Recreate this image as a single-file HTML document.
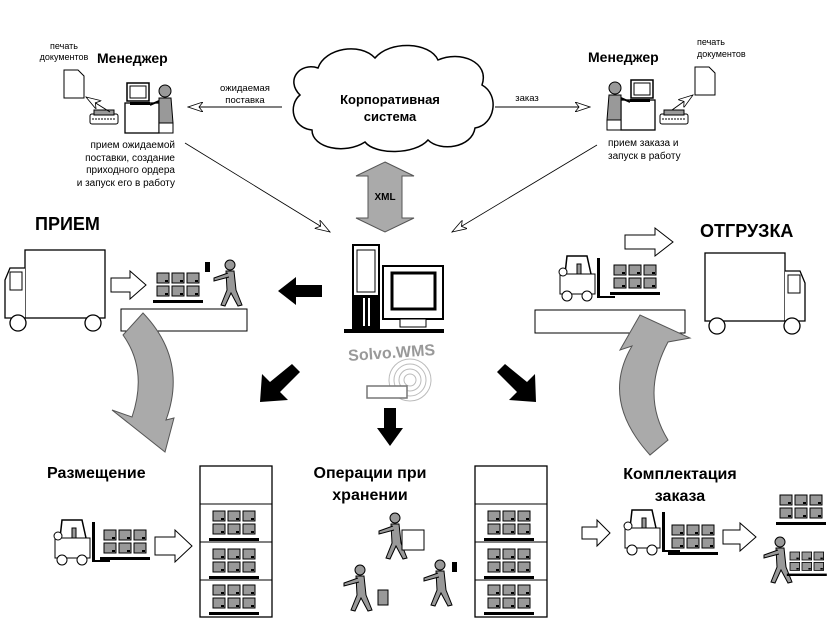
<!DOCTYPE html>
<html><head><meta charset="utf-8"><style>
html,body{margin:0;padding:0;background:#fff;}
svg{display:block;font-family:"Liberation Sans",sans-serif;}
</style></head><body>
<svg width="830" height="620" viewBox="0 0 830 620" xmlns="http://www.w3.org/2000/svg">
<defs>
<g id="b"><rect x="0" y="0" width="12" height="10" fill="#999" stroke="#000" stroke-width="1"/><rect x="8" y="7" width="3" height="2" fill="#000"/></g>
<g id="g6"><use href="#b" x="0" y="0"/><use href="#b" x="15" y="0"/><use href="#b" x="30" y="0"/><use href="#b" x="0" y="13"/><use href="#b" x="15" y="13"/><use href="#b" x="30" y="13"/><rect x="-4" y="27" width="50" height="3" fill="#000"/></g>
<marker id="oa" markerWidth="16" markerHeight="10" refX="15" refY="5" orient="auto" markerUnits="userSpaceOnUse"><path d="M0,0 L15,5 L0,10 L4,5 Z" fill="#fff" stroke="#000" stroke-width="0.8"/></marker>
<g id="truck"><rect x="20" y="0" width="80" height="68" fill="#fff" stroke="#000" stroke-width="1.3"/><path d="M20,18 L5,18 L0,30 L0,68 L20,68" fill="#fff" stroke="#000" stroke-width="1.3"/><rect x="5" y="22" width="12" height="18" fill="#fff" stroke="#000"/><circle cx="13" cy="73" r="8" fill="#fff" stroke="#000" stroke-width="1.3"/><circle cx="88" cy="73" r="8" fill="#fff" stroke="#000" stroke-width="1.3"/></g>
<g id="fork"><rect x="5" y="18" width="35" height="20" fill="#fff" stroke="#000"/><path d="M10,18 L12,0 L32,0 L36,18" fill="none" stroke="#000" stroke-width="1.5"/><circle cx="8" cy="16" r="4" fill="#fff" stroke="#000"/><rect x="22" y="8" width="4" height="10" fill="#999" stroke="#000"/><circle cx="12" cy="40" r="5" fill="#fff" stroke="#000"/><circle cx="32" cy="40" r="5" fill="#fff" stroke="#000"/><rect x="42" y="2" width="3" height="40" fill="#000"/><rect x="42" y="40" width="18" height="2" fill="#000"/></g>
<g id="shelf"><rect x="0" y="0" width="72" height="151" fill="#fff" stroke="#000" stroke-width="1.3"/><line x1="0" y1="38" x2="72" y2="38" stroke="#000"/><line x1="0" y1="76" x2="72" y2="76" stroke="#000"/><line x1="0" y1="114" x2="72" y2="114" stroke="#000"/><use href="#g6" x="13" y="45"/><use href="#g6" x="13" y="83"/><use href="#g6" x="13" y="119"/></g>
<g id="person" fill="#999" stroke="#000" stroke-width="1"><circle cx="10" cy="5" r="5"/><path d="M6,11 L14,11 L16,30 L22,45 L18,46 L11,33 L5,46 L1,45 L7,30 Z"/><path d="M8,13 L-6,18 L-6,21 L9,17" /></g>
<g id="mgr"><rect x="0" y="20" width="34" height="30" fill="#fff" stroke="#000" stroke-width="1.3"/><rect x="2" y="0" width="22" height="18" fill="#fff" stroke="#000" stroke-width="1.5"/><rect x="5" y="3" width="16" height="12" fill="#fff" stroke="#000"/><rect x="5" y="19" width="20" height="3" fill="#000"/><circle cx="40" cy="8" r="6" fill="#999" stroke="#000"/><path d="M34,15 L46,15 L48,40 L34,40 Z" fill="#999" stroke="#000"/><rect x="34" y="40" width="14" height="10" fill="#fff" stroke="#000"/><path d="M34,18 L25,22" stroke="#000" stroke-width="2"/></g>
<g id="prn"><rect x="0" y="4" width="28" height="10" rx="2" fill="#fff" stroke="#000"/><rect x="4" y="0" width="20" height="5" fill="#999" stroke="#000"/><line x1="2" y1="9" x2="26" y2="9" stroke="#000" stroke-dasharray="2 1"/></g>
<g id="doc"><path d="M0,0 L14,0 L20,6 L20,28 L0,28 Z" fill="#fff" stroke="#000"/></g>
</defs>

<!-- top left -->
<text x="64" y="49" font-size="9" text-anchor="middle">печать</text>
<text x="64" y="60" font-size="9" text-anchor="middle">документов</text>
<text x="97" y="63" font-size="14" font-weight="bold">Менеджер</text>
<use href="#doc" x="64" y="70"/>
<use href="#prn" x="90" y="110"/>
<line x1="110" y1="112" x2="86" y2="97" stroke="#000" marker-end="url(#oa)"/>
<use href="#mgr" x="125" y="83"/>
<text x="175" y="148" font-size="10" text-anchor="end">прием ожидаемой</text>
<text x="175" y="161" font-size="10" text-anchor="end">поставки, создание</text>
<text x="175" y="173" font-size="10" text-anchor="end">приходного ордера</text>
<text x="175" y="186" font-size="10" text-anchor="end">и запуск его в работу</text>
<text x="245" y="91" font-size="9.5" text-anchor="middle">ожидаемая</text>
<text x="245" y="103" font-size="9.5" text-anchor="middle">поставка</text>
<line x1="282" y1="107" x2="188" y2="107" stroke="#000" marker-end="url(#oa)"/>
<line x1="185" y1="143" x2="330" y2="232" stroke="#000" stroke-width="0.8" marker-end="url(#oa)"/>

<!-- cloud -->
<path d="M300,95 C285,80 300,62 318,68 C325,48 360,42 375,58 C390,40 430,42 438,60 C460,50 490,62 482,85 C500,95 495,125 475,128 C472,148 440,152 428,140 C415,155 375,155 365,142 C345,155 312,148 312,130 C292,128 288,105 300,95 Z" fill="#fff" stroke="#000" stroke-width="1.5"/>
<text x="390" y="104" font-size="13" font-weight="bold" text-anchor="middle">Корпоративная</text>
<text x="390" y="121" font-size="13" font-weight="bold" text-anchor="middle">система</text>

<!-- top right -->
<text x="527" y="101" font-size="9.5" text-anchor="middle">заказ</text>
<line x1="495" y1="107" x2="590" y2="107" stroke="#000" marker-end="url(#oa)"/>
<text x="588" y="62" font-size="14" font-weight="bold">Менеджер</text>
<text x="697" y="45" font-size="9">печать</text>
<text x="697" y="57" font-size="9">документов</text>
<use href="#doc" x="695" y="67"/>
<use href="#prn" x="660" y="110"/>
<line x1="672" y1="110" x2="693" y2="95" stroke="#000" marker-end="url(#oa)"/>
<g transform="translate(655,80) scale(-1,1)"><use href="#mgr"/></g>
<text x="608" y="146" font-size="10">прием заказа и</text>
<text x="608" y="159" font-size="10">запуск в работу</text>
<line x1="597" y1="145" x2="452" y2="232" stroke="#000" stroke-width="0.8" marker-end="url(#oa)"/>

<!-- XML -->
<path d="M385,162 L414,176 L402,176 L402,218 L414,218 L385,232 L356,218 L368,218 L368,176 L356,176 Z" fill="#aaa" stroke="#555"/>
<text x="385" y="200" font-size="10" font-weight="bold" text-anchor="middle">XML</text>

<!-- computer -->
<rect x="353" y="245" width="26" height="85" fill="#fff" stroke="#000" stroke-width="2"/>
<rect x="357" y="250" width="18" height="42" fill="#fff" stroke="#000"/>
<rect x="353" y="295" width="26" height="35" fill="#000"/>
<rect x="363" y="298" width="2" height="28" fill="#fff"/><rect x="368" y="298" width="2" height="28" fill="#fff"/>
<rect x="383" y="266" width="60" height="53" fill="#fff" stroke="#000" stroke-width="2"/>
<rect x="392" y="273" width="43" height="36" fill="#fff" stroke="#000" stroke-width="3"/>
<rect x="400" y="319" width="26" height="8" fill="#fff" stroke="#000"/>
<rect x="344" y="329" width="100" height="4" fill="#000"/>
<text x="392" y="358" font-size="16" font-weight="bold" fill="#999" text-anchor="middle" transform="rotate(-4 392 358)">Solvo.WMS</text>
<g fill="none" stroke="#bbb"><circle cx="410" cy="380" r="6"/><circle cx="410" cy="380" r="11"/><circle cx="410" cy="380" r="16"/><circle cx="410" cy="380" r="21"/></g>
<rect x="367" y="386" width="40" height="12" fill="#fff" stroke="#777" stroke-width="1.5"/>

<!-- black arrows -->
<path d="M322,285 L296,285 L296,277 L278,291 L296,305 L296,297 L322,297 Z" fill="#000"/>
<path d="M292,364 L300,372 L280,392 L288,400 L260,402 L262,374 L270,382 Z" fill="#000"/>
<path d="M384,408 L396,408 L396,428 L403,428 L390,446 L377,428 L384,428 Z" fill="#000"/>
<path d="M505,364 L497,372 L517,392 L509,400 L536,402 L535,374 L527,382 Z" fill="#000"/>

<!-- PRIEM -->
<text x="35" y="230" font-size="18" font-weight="bold">ПРИЕМ</text>
<use href="#truck" x="5" y="250"/>
<path d="M111,278 L130,278 L130,271 L146,285 L130,299 L130,292 L111,292 Z" fill="#fff" stroke="#000"/>
<use href="#g6" x="157" y="273"/>
<rect x="121" y="309" width="126" height="22" fill="#fff" stroke="#000"/>
<use href="#person" x="220" y="260"/>
<rect x="205" y="262" width="5" height="10" fill="#000"/>
<path d="M123,335 L143,313 Q188,360 166,420 L174,418 L165,452 L112,410 L132,417 Q148,370 123,335 Z" fill="#aaa" stroke="#555"/>

<!-- OTGRUZKA -->
<text x="700" y="237" font-size="18" font-weight="bold">ОТГРУЗКА</text>
<path d="M625,235 L655,235 L655,228 L673,242 L655,256 L655,249 L625,249 Z" fill="#fff" stroke="#000"/>
<rect x="535" y="310" width="150" height="23" fill="#fff" stroke="#000"/>
<use href="#fork" x="555" y="256"/>
<use href="#g6" x="614" y="265"/>
<use href="#truck" transform="translate(805,253) scale(-1,1)"/>
<path d="M650,455 Q600,400 632,346 L620,350 L640,315 L690,338 L668,342 Q640,395 668,440 Z" fill="#aaa" stroke="#555"/>

<!-- bottom -->
<text x="47" y="478" font-size="16" font-weight="bold">Размещение</text>
<use href="#shelf" x="200" y="466"/>
<use href="#fork" x="50" y="520"/>
<use href="#g6" x="104" y="530"/>
<path d="M155,537 L175,537 L175,530 L192,546 L175,562 L175,555 L155,555 Z" fill="#fff" stroke="#000"/>

<text x="370" y="478" font-size="16" font-weight="bold" text-anchor="middle">Операции при</text>
<text x="370" y="500" font-size="16" font-weight="bold" text-anchor="middle">хранении</text>
<use href="#shelf" x="475" y="466"/>
<use href="#person" x="385" y="513"/>
<rect x="402" y="530" width="22" height="20" fill="#fff" stroke="#000"/>
<use href="#person" x="350" y="565"/>
<rect x="378" y="590" width="10" height="15" fill="#999" stroke="#000"/>
<use href="#person" x="430" y="560"/>
<rect x="452" y="562" width="5" height="10" fill="#000"/>

<text x="680" y="479" font-size="16" font-weight="bold" text-anchor="middle">Комплектация</text>
<text x="680" y="501" font-size="16" font-weight="bold" text-anchor="middle">заказа</text>
<path d="M582,527 L597,527 L597,520 L610,533 L597,546 L597,539 L582,539 Z" fill="#fff" stroke="#000"/>
<use href="#fork" x="620" y="510"/>
<use href="#g6" x="672" y="525"/>
<path d="M723,530 L740,530 L740,523 L756,537 L740,551 L740,544 L723,544 Z" fill="#fff" stroke="#000"/>
<use href="#g6" x="780" y="495"/>
<use href="#person" x="770" y="537"/>
<g transform="translate(790,552) scale(0.8)"><use href="#g6"/></g>
</svg>
</body></html>
